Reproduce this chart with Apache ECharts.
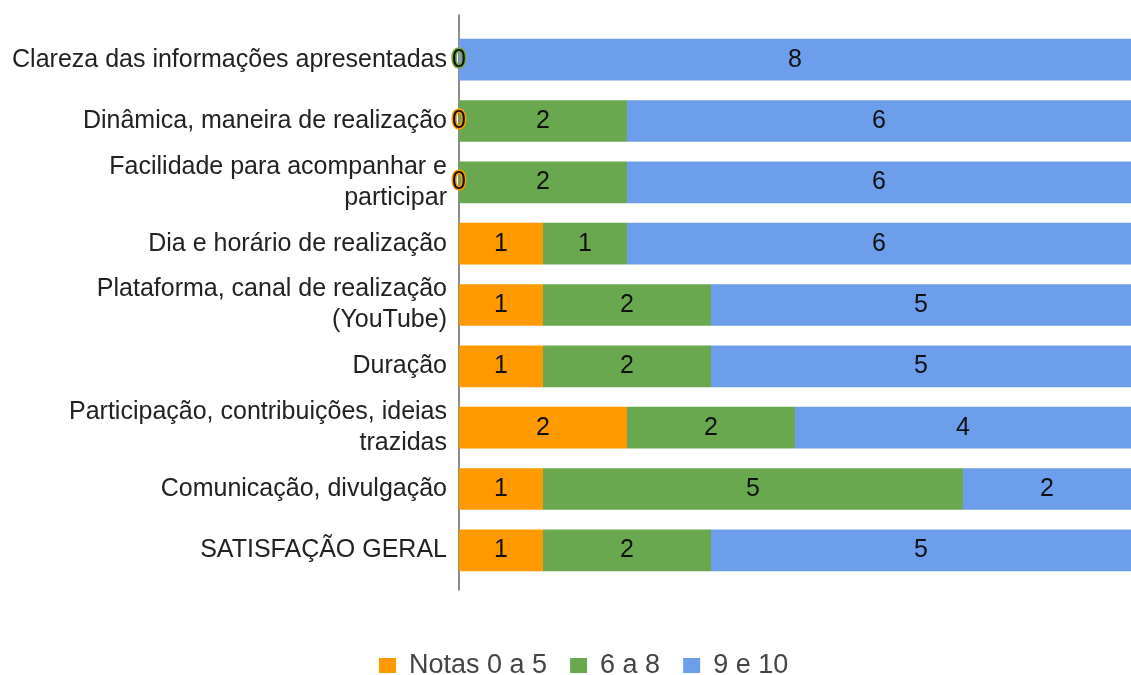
<!DOCTYPE html>
<html>
<head>
<meta charset="utf-8">
<script src="https://cdn.jsdelivr.net/npm/echarts@6/dist/echarts.min.js"></script>
<style>
  html, body { margin: 0; padding: 0; background: #fff; }
  #chart { width: 1131px; height: 675px; }
</style>
</head>
<body>
<div id="chart"></div>
<script>
var categories = [
  'Clareza das informações apresentadas',
  'Dinâmica, maneira de realização',
  'Facilidade para acompanhar e\nparticipar',
  'Dia e horário de realização',
  'Plataforma, canal de realização\n(YouTube)',
  'Duração',
  'Participação, contribuições, ideias\ntrazidas',
  'Comunicação, divulgação',
  'SATISFAÇÃO GERAL'
];
var notas0a5 = [0, 0, 0, 1, 1, 1, 2, 1, 1];
var notas6a8 = [0, 2, 2, 1, 2, 2, 2, 5, 2];
var notas9e10 = [8, 6, 6, 6, 5, 5, 4, 2, 5];

var fontFamily = 'Liberation Sans, Arial, sans-serif';

function makeSeries(name, data, color) {
  return {
    name: name,
    type: 'bar',
    stack: 'total',
    barCategoryGap: '32%',
    data: data,
    itemStyle: { color: color },
    label: {
      show: true,
      position: 'inside',
      fontFamily: fontFamily,
      fontSize: 25,
      color: '#111',
      textBorderColor: color,
      textBorderWidth: 3
    }
  };
}

var chart = echarts.init(document.getElementById('chart'));
chart.setOption({
  animation: false,
  grid: [
    { top: 29, bottom: 94, left: 459, right: -13 },
    // longer axis line, as in the original
    { top: 15, bottom: 85, left: 459, right: -13 }
  ],
  legend: {
    top: 647,
    left: 374,
    icon: 'rect',
    itemWidth: 17,
    itemHeight: 15,
    itemGap: 23,
    textStyle: {
      fontFamily: fontFamily,
      fontSize: 27,
      color: '#444',
      padding: [0, 0, 0, 8]
    },
    data: ['Notas 0 a 5', '6 a 8', '9 e 10']
  },
  xAxis: [
    { type: 'value', min: 0, max: 8, show: false, gridIndex: 0 },
    { type: 'value', min: 0, max: 8, show: false, gridIndex: 1 }
  ],
  yAxis: [
    {
      type: 'category',
      gridIndex: 0,
      inverse: true,
      data: categories,
      axisTick: { show: false },
      axisLine: { show: false },
      axisLabel: {
        margin: 12,
        fontFamily: fontFamily,
        fontSize: 25,
        lineHeight: 31,
        color: '#222',
        align: 'right'
      }
    },
    {
      type: 'value',
      gridIndex: 1,
      min: 0,
      max: 1,
      axisLine: { show: true, lineStyle: { color: '#666', width: 1.5 } },
      axisTick: { show: false },
      axisLabel: { show: false },
      splitLine: { show: false }
    }
  ],
  series: [
    makeSeries('Notas 0 a 5', notas0a5, '#ff9900'),
    makeSeries('6 a 8', notas6a8, '#6aa84f'),
    makeSeries('9 e 10', notas9e10, '#6d9eeb')
  ]
});
</script>
</body>
</html>
